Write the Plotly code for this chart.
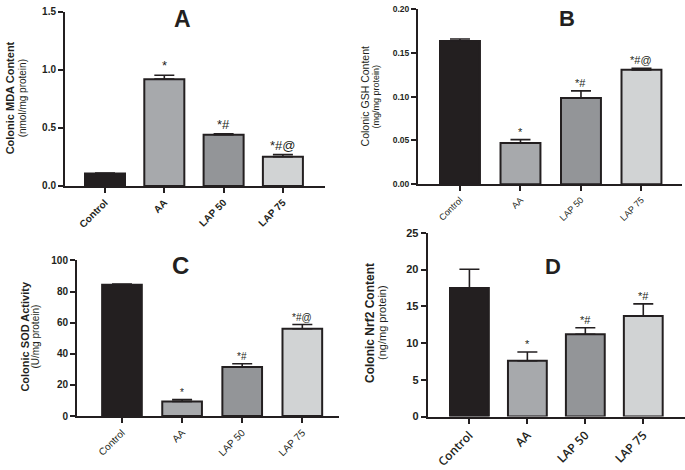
import plotly.graph_objects as go

groups = ["Control", "AA", "LAP 50", "LAP 75"]
colors = ["#231f20", "#a7a9ac", "#939598", "#d1d3d4"]

mda = [0.106, 0.92, 0.441, 0.252]
mda_err = [0.004, 0.034, 0.008, 0.018]
mda_sig = ["", "*", "*#", "*#@"]

gsh = [0.1637, 0.047, 0.0985, 0.1307]
gsh_err = [0.0023, 0.004, 0.0082, 0.0019]
gsh_sig = ["", "*", "*#", "*#@"]

sod = [84.4, 9.4, 31.5, 56.1]
sod_err = [0.5, 1.2, 2.1, 2.7]
sod_sig = ["", "*", "*#", "*#@"]

nrf2 = [17.5, 7.6, 11.2, 13.7]
nrf2_err = [2.55, 1.2, 0.88, 1.64]
nrf2_sig = ["", "*", "*#", "*#"]

W, H = 685, 470
FONT = "Liberation Sans, Arial, sans-serif"

def px(x):
    return x / W

def py(y):
    return 1 - y / H

panels = [
    dict(v=mda, e=mda_err, s=mda_sig, xd=(65, 325), yd=(185, 6), yr=(0, 1.5), xr=(-0.675, 3.71),
         tv=[0, 0.5, 1.0, 1.5], tt=["0.0", "0.5", "1.0", "1.5"], bw=0.675,
         ybold=True, ytf=10, xw="bold", xfam=FONT, xtf=10, sigsize=13,
         letter="A", lxy=(182, 13), lsize=23,
         t1="Colonic MDA Content", t1b=True, t1s=11, t1x=10,
         t2="(nmol/mg protein)", t2b=False, t2s=10, t2x=22, tcy=95),
    dict(v=gsh, e=gsh_err, s=gsh_sig, xd=(418, 682), yd=(183.3, 3.3), yr=(0, 0.2), xr=(-0.694, 3.67),
         tv=[0, 0.05, 0.10, 0.15, 0.20], tt=["0.00", "0.05", "0.10", "0.15", "0.20"], bw=0.66,
         ybold=True, ytf=8.5, xw="normal", xfam=FONT, xtf=9, sigsize=11,
         letter="B", lxy=(567, 12.5), lsize=22,
         t1="Colonic GSH Content", t1b=False, t1s=10.5, t1x=365,
         t2="(mg/mg protein)", t2b=False, t2s=9, t2x=376, tcy=93),
    dict(v=sod, e=sod_err, s=sod_sig, xd=(77, 339), yd=(421.7, 261.7), yr=(0, 100), xr=(-0.748, 3.61),
         tv=[0, 20, 40, 60, 80, 100], tt=["0", "20", "40", "60", "80", "100"], bw=0.66,
         ybold=True, ytf=10, xw="normal", xfam=FONT, xtf=10, sigsize=10,
         letter="C", lxy=(180, 267), lsize=24,
         t1="Colonic SOD Activity", t1b=True, t1s=11, t1x=25,
         t2="(U/mg protein)", t2b=False, t2s=10, t2x=36, tcy=340),
    dict(v=nrf2, e=nrf2_err, s=nrf2_sig, xd=(427.7, 685), yd=(422.3, 233.3), yr=(0, 25), xr=(-0.72, 3.72),
         tv=[0, 5, 10, 15, 20, 25], tt=["0", "5", "10", "15", "20", "25"], bw=0.67,
         ybold=True, ytf=11, xw=600, xfam="Open Sans, sans-serif", xtf=12, sigsize=11,
         letter="D", lxy=(553, 267.5), lsize=22,
         t1="Colonic Nrf2 Content", t1b=True, t1s=12, t1x=370,
         t2="(ng/mg protein)", t2b=False, t2s=11, t2x=382, tcy=326),
]

fig = go.Figure()
annotations = []
layout = dict(width=W, height=H, margin=dict(l=0, r=0, t=0, b=0),
              paper_bgcolor="white", plot_bgcolor="white", showlegend=False,
              font=dict(family=FONT, color="#231f20"))

for i, p in enumerate(panels, start=1):
    xa = "x" if i == 1 else f"x{i}"
    ya = "y" if i == 1 else f"y{i}"
    xk = "xaxis" if i == 1 else f"xaxis{i}"
    yk = "yaxis" if i == 1 else f"yaxis{i}"
    fig.add_trace(go.Bar(
        x=groups, y=p["v"], xaxis=xa, yaxis=ya, width=p["bw"],
        marker=dict(color=colors, line=dict(color="#231f20", width=2)),
        error_y=dict(type="data", array=p["e"], arrayminus=[0] * 4, symmetric=False,
                     color="#231f20", thickness=1.6, width=10),
        hoverinfo="skip",
    ))
    layout[xk] = dict(domain=[px(p["xd"][0]), px(p["xd"][1])], anchor=ya, range=list(p["xr"]),
                      showline=True, linecolor="#231f20", linewidth=2, ticks="outside",
                      ticklen=5, tickwidth=2, tickcolor="#231f20", tickangle=-45,
                      tickfont=dict(size=p["xtf"], family=p["xfam"], color="#231f20",
                                    weight=p["xw"]),
                      showgrid=False, zeroline=False, fixedrange=True)
    layout[yk] = dict(domain=[py(p["yd"][0]), py(p["yd"][1])], anchor=xa, range=list(p["yr"]),
                      showline=True, linecolor="#231f20", linewidth=2, ticks="outside",
                      ticklen=5, tickwidth=2, tickcolor="#231f20",
                      tickvals=p["tv"], ticktext=p["tt"],
                      tickfont=dict(size=p["ytf"], family=FONT, color="#231f20",
                                    weight="bold" if p["ybold"] else "normal"),
                      showgrid=False, zeroline=False, fixedrange=True)
    for g, v, e, s in zip(groups, p["v"], p["e"], p["s"]):
        if s:
            annotations.append(dict(x=g, y=v + e, xref=xa, yref=ya, text=s, showarrow=False,
                                    yanchor="bottom", yshift=0,
                                    font=dict(size=p["sigsize"], family=FONT, color="#231f20")))
    annotations.append(dict(x=px(p["lxy"][0]), y=py(p["lxy"][1]), xref="paper", yref="paper",
                            text=p["letter"], showarrow=False, xanchor="center", yanchor="middle",
                            font=dict(size=p["lsize"], family=FONT, color="#231f20", weight="bold")))
    annotations.append(dict(x=px(p["t1x"]), y=py(p["tcy"]), xref="paper", yref="paper",
                            text=p["t1"], showarrow=False, textangle=-90,
                            xanchor="center", yanchor="middle",
                            font=dict(size=p["t1s"], family=FONT, color="#231f20",
                                      weight="bold" if p["t1b"] else "normal")))
    annotations.append(dict(x=px(p["t2x"]), y=py(p["tcy"]), xref="paper", yref="paper",
                            text=p["t2"], showarrow=False, textangle=-90,
                            xanchor="center", yanchor="middle",
                            font=dict(size=p["t2s"], family=FONT, color="#231f20",
                                      weight="bold" if p["t2b"] else "normal")))

layout["annotations"] = annotations
fig.update_layout(**layout)
fig.write_html("out.html")
